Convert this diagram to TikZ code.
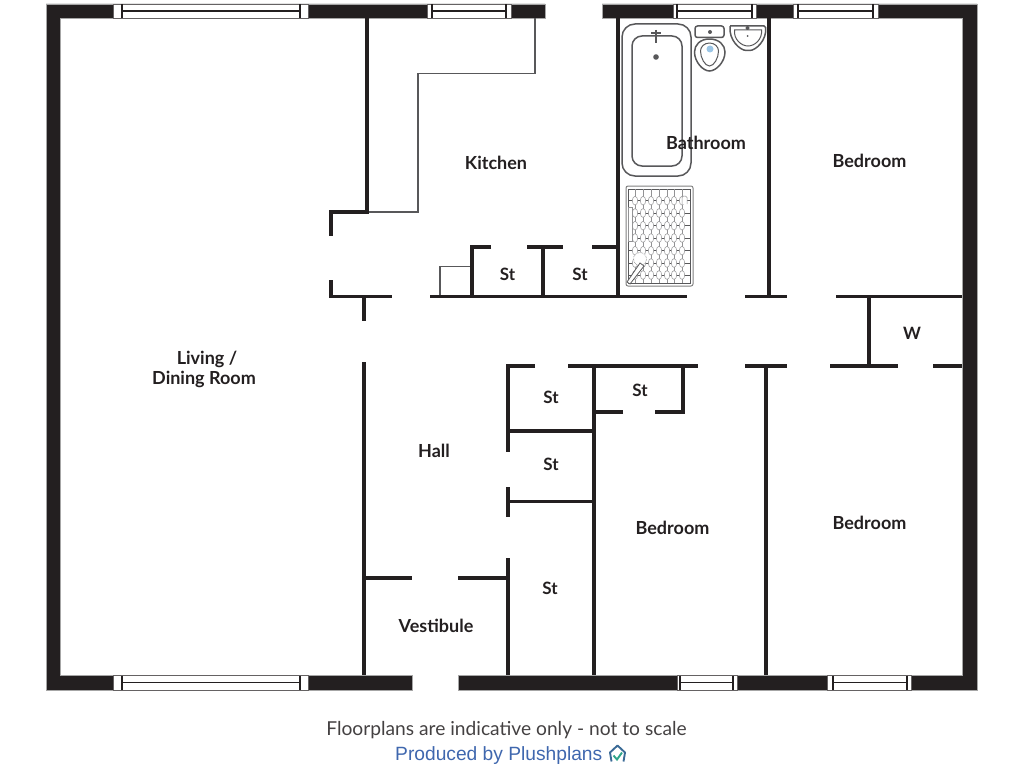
\documentclass[tikz,border=0pt]{standalone}
\usepackage{fontspec}
\setmainfont{Lato}
\newfontfamily\creditfont{Liberation Sans}
\usetikzlibrary{shapes.geometric}
\definecolor{wallblack}{HTML}{231F20}
\definecolor{fixture}{HTML}{58585A}
\definecolor{creditblue}{HTML}{3F67AE}
\definecolor{logoblue}{HTML}{3A6A96}
\definecolor{logogreen}{HTML}{2FA58A}
\definecolor{pandot}{HTML}{9CC6E6}
\tikzset{
    outer wall/.style = {
        fill = wallblack,
        draw = gray!70,
        line width = 0.5pt,
        },
    inner wall/.style = {
        draw = wallblack,
        line width = 3.8pt,
        },
    thin wall/.style = {
        draw = fixture,
        line width = 1.2pt,
        },
    window pane/.style = {
        fill = white,
        draw = wallblack!70,
        line width = 0.7pt,
        },
    window line/.style = {
        draw = wallblack,
        line width = 1.2pt,
        },
    fixture line/.style = {
        draw = fixture,
        line width = 1.5pt,
        },
    mat line/.style = {
        draw = fixture!65,
        line width = 0.5pt,
        },
    room/.style = {
        font = \bfseries\fontsize{18}{20.5}\selectfont,
        text = wallblack,
        align = center,
        inner sep = 0pt,
        },
    small room/.style = {
        room,
        font = \bfseries\fontsize{17}{20}\selectfont,
        },
}

\begin{document}
\begin{tikzpicture}[x=1pt, y=-1pt]
    \useasboundingbox (0,0) rectangle (1024,768);

    % outer walls
    \fill[outer wall] (46,4) -- (545,4) -- (545,18) -- (60,18) -- (60,675) -- (412,675) -- (412,690) -- (46,690) -- cycle;
    \fill[outer wall] (602,4) -- (977,4) -- (977,690) -- (458,690) -- (458,675) -- (962,675) -- (962,18) -- (602,18) -- cycle;

    % windows
    \foreach \xa/\xb/\xc/\xd/\ya in {113/122/300/308/4, 427/432/506/511/4, 673/677/752/756/4, 793/798/873/878/4,
                                     113/122/300/308/675.5, 677/680/733/737/675.5, 827/833/907/911/675.5} {
        \path[window pane] (\xa,\ya) rectangle (\xd,\ya+14.5);
        \draw[window line] (\xb,\ya) -- (\xb,\ya+14.5);
        \draw[window line] (\xc,\ya) -- (\xc,\ya+14.5);
        \draw[window line] (\xb,\ya+7) -- (\xc,\ya+7);
    }

    % kitchen
    \draw[thin wall] (535,18) -- (535,73.5) -- (418,73.5) -- (418,212) -- (367,212);
    \draw[thin wall] (440,296) -- (440,266.5) -- (472,266.5);
    \draw[inner wall] (367,18) -- (367,212) -- (331,212) -- (331,236);
    \draw[inner wall] (331,280) -- (331,296.5) -- (392,296.5);
    \draw[inner wall] (364,296.5) -- (364,321);
    \draw[inner wall] (430,296.5) -- (687,296.5);
    \draw[inner wall] (491,247) -- (472,247) -- (472,296.5);
    \draw[inner wall] (527,247) -- (563,247);
    \draw[inner wall] (543,247) -- (543,296.5);
    \draw[inner wall] (592,247) -- (618,247);
    \draw[inner wall] (618,18) -- (618,296.5);

    % bedrooms
    \draw[inner wall] (769,18) -- (769,296.5);
    \draw[inner wall] (745,296.5) -- (787,296.5);
    \draw[inner wall] (836,296.5) -- (962,296.5);
    \draw[inner wall] (869,296.5) -- (869,366);
    \draw[inner wall] (830,366) -- (898,366);
    \draw[inner wall] (933,366) -- (962,366);
    \draw[inner wall] (745,366) -- (787,366);
    \draw[inner wall] (766,366) -- (766,675);

    % cupboards and hall
    \draw[inner wall] (535,366) -- (508,366) -- (508,451.5);
    \draw[inner wall] (568,366) -- (698,366);
    \draw[inner wall] (594,366) -- (594,675);
    \draw[inner wall] (623,412) -- (594,412);
    \draw[inner wall] (655,412) -- (683,412) -- (683,366);
    \draw[inner wall] (508,431) -- (594,431);
    \draw[inner wall] (508,501.5) -- (594,501.5);
    \draw[inner wall] (508,487) -- (508,517);
    \draw[inner wall] (508,558) -- (508,675);
    \draw[inner wall] (364,362) -- (364,675);
    \draw[inner wall] (364,578) -- (412,578);
    \draw[inner wall] (458,578) -- (508,578);

    % bath
    \draw[fixture line, rounded corners=13pt] (622,24) rectangle (691,176);
    \draw[fixture line, rounded corners=10pt] (632,36) rectangle (682,166);
    \draw[fixture, line width=2.4pt] (651,33) -- (661,33);
    \draw[fixture, line width=2.2pt] (656,30) -- (656,43);
    \fill[fixture] (656,57) circle (2.8);

    % toilet and basin
    \draw[fixture line, rounded corners=2.5pt] (695,26) rectangle (724,37.5);
    \fill[fixture] (710,32) circle (2);
    \draw[fixture line] (709.5,39) .. controls (700,39) and (694.5,45) .. (694.5,52) .. controls (694.5,62) and (703,71) .. (709.5,71) .. controls (716,71) and (725,62) .. (725,52) .. controls (725,45) and (719,39) .. (709.5,39);
    \draw[fixture line, line width=1pt] (709.5,43) .. controls (704,43) and (700.5,47) .. (700.5,51) .. controls (700.5,58) and (705,66) .. (709.5,66) .. controls (714,66) and (718.5,58) .. (718.5,51) .. controls (718.5,47) and (715,43) .. (709.5,43);
    \fill[pandot] (710,49) circle (3.5);
    \draw[fixture line, rounded corners=1.5pt] (730,26) -- (765.5,26) .. controls (767,40) and (756,50.5) .. (748,50.5) .. controls (740,50.5) and (728.5,40) .. (730,26);
    \draw[fixture line, line width=1pt] (734.5,30) .. controls (733.5,39) and (741,46) .. (748,46) .. controls (755,46) and (762.5,39) .. (761.5,30) -- cycle;
    \fill[fixture] (747.5,28) circle (2);
    \fill[fixture] (747.5,36) circle (1);

    % shower
    \draw[gray, line width=1pt, rounded corners=2pt] (626,186) rectangle (693,286);
    \draw[fixture line, line width=0.9pt] (628,189) rectangle (690,283);
    \foreach \xb in {635,643,651,659,667,674,682} {
        \draw[mat line] (\xb,189) -- (\xb,283);
    }
    \foreach \yb in {200.7,213,225.7,238,250.7,263,275} {
        \draw[mat line, draw=fixture] (628,\yb) -- (690,\yb);
        \foreach \xb in {635,643,651,659,667,674,682} {
            \draw[mat line, fill=white] (\xb,\yb) ellipse (2.7 and 4.4);
        }
    }
    \draw[mat line, fill=white] (628,207) rectangle (632,241);
    \draw[mat line, fill=white, rounded corners=1.5pt] (682,204) -- (682,196) -- (687,196) -- (687,204);
    \fill[white] (640,259) circle (6.5);
    \draw[mat line, densely dotted, line width=0.8pt] (640,259) circle (6.5);
    \draw[mat line, draw=fixture, line width=0.8pt, fill=white] (627,282) -- (640,263) -- (644,266) -- (630,284) -- cycle;

    % labels
    \node[room] (kitchen) at (496,162.5) {Kitchen};
    \node[room] (bathroom) at (706,142.5) {Bathroom};
    \node[room] (bedrooma) at (869.5,161) {Bedroom};
    \node[room] (bedroomb) at (672.5,528) {Bedroom};
    \node[room] (bedroomc) at (869.5,523) {Bedroom};
    \node[room] (living) at (204,369.5) {\hspace*{6pt}Living /\\Dining Room};
    \node[room] (hall) at (434,451) {Hall};
    \node[room] (vestibule) at (436,625.5) {Vestibule};
    \node[small room] (sta) at (507.5,274.5) {St};
    \node[small room] (stb) at (580,274.5) {St};
    \node[small room] (stc) at (551,397) {St};
    \node[small room] (std) at (640,390.5) {St};
    \node[small room] (ste) at (551,464) {St};
    \node[small room] (stf) at (550,588.5) {St};
    \node[small room] (wardrobe) at (912,333.5) {W};

    % credit lines
    \node[inner sep=0pt, text=wallblack!85, font=\fontsize{19.2}{22}\selectfont] (notscale) at (506.5,730) {Floorplans are indicative only - not to scale};
    \node[inner sep=0pt, anchor=west, text=creditblue, font=\creditfont\fontsize{19.2}{22}\selectfont] (credit) at (395,756) {Produced by Plushplans};
    \draw[logoblue, line width=1.9pt, line join=round] (611.5,761.5) -- (610,752.5) -- (617.5,745.5) -- (625,752.5) -- (623.5,761.5);
    \draw[logogreen, line width=1.9pt] (613.5,755.5) -- (617,759.5) -- (622,752.5);
\end{tikzpicture}
\end{document}
